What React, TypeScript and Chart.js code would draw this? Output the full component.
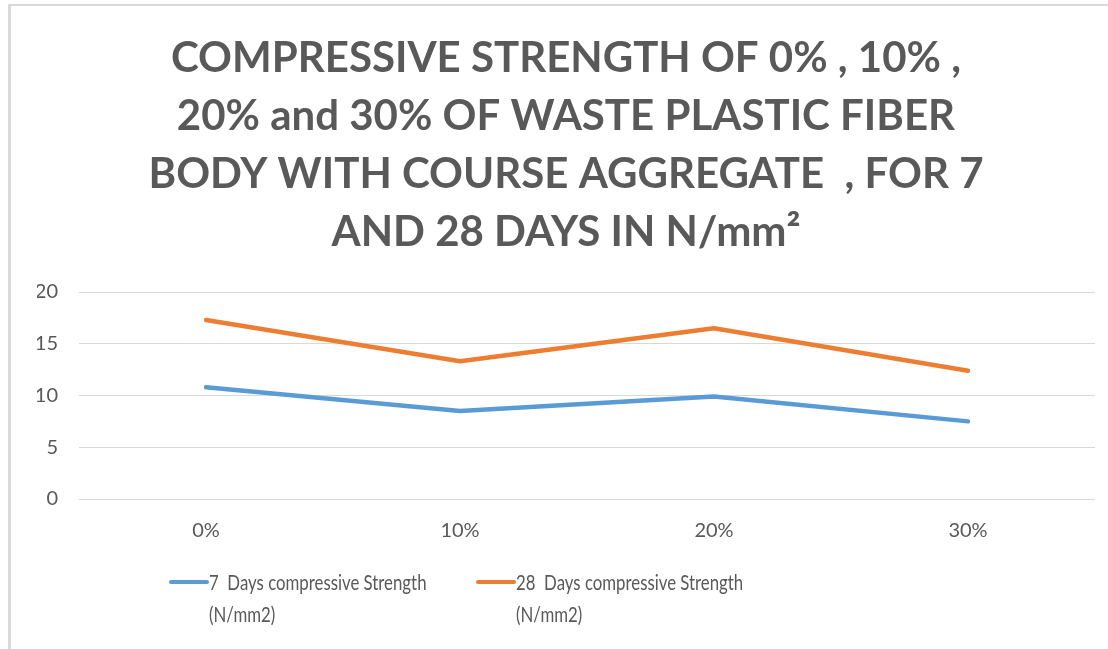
import React, { useEffect, useRef } from "react";
import { Chart, registerables } from "chart.js";

Chart.register(...registerables);

const categories = ["0%", "10%", "20%", "30%"];
const days7Values = [10.8, 8.5, 9.9, 7.5];
const days28Values = [17.3, 13.3, 16.5, 12.4];
const legend7Lines = ["7  Days compressive Strength", "(N/mm2)"];
const legend28Lines = ["28  Days compressive Strength", "(N/mm2)"];
const titleLines = [
  "COMPRESSIVE STRENGTH OF 0% , 10% ,",
  "20% and 30% OF WASTE PLASTIC FIBER",
  "BODY WITH COURSE AGGREGATE  , FOR 7",
  "AND 28 DAYS IN N/mm\u00B2",
];
const yTicks = [0, 5, 10, 15, 20];

const FONT = "Lato, 'Liberation Sans', sans-serif";
const TEXT = "#595959";

const legendLines = [legend7Lines, legend28Lines];

const customLegend = {
  id: "customLegend",
  afterDraw(chart: any) {
    const { ctx, chartArea } = chart;
    const offsets = [92, 399];
    const lineY = chartArea.bottom + 83;
    ctx.save();
    chart.data.datasets.forEach((ds: any, i: number) => {
      const x0 = chartArea.left + offsets[i];
      ctx.strokeStyle = ds.borderColor;
      ctx.lineWidth = 4;
      ctx.lineCap = "round";
      ctx.beginPath();
      ctx.moveTo(x0, lineY);
      ctx.lineTo(x0 + 36, lineY);
      ctx.stroke();
      ctx.fillStyle = TEXT;
      ctx.font = `21px ${FONT}`;
      ctx.textBaseline = "middle";
      ctx.textAlign = "left";
      legendLines[i].forEach((t, j) => {
        ctx.save();
        ctx.translate(x0 + 38, lineY + 1 + j * 32);
        ctx.scale(0.8, 1);
        ctx.fillText(t, 0, 0);
        ctx.restore();
      });
    });
    ctx.restore();
  },
};

export default function App() {
  const ref = useRef<HTMLCanvasElement | null>(null);
  useEffect(() => {
    if (!ref.current) return;
    const chart = new Chart(ref.current, {
      type: "line",
      data: {
        labels: categories,
        datasets: [
          {
            label: legend7Lines.join(" "),
            data: days7Values,
            borderColor: "#5B9BD5",
            backgroundColor: "#5B9BD5",
            borderWidth: 4.5,
            pointRadius: 0,
            borderCapStyle: "round",
            borderJoinStyle: "round",
            tension: 0,
          },
          {
            label: legend28Lines.join(" "),
            data: days28Values,
            borderColor: "#ED7D31",
            backgroundColor: "#ED7D31",
            borderWidth: 4.5,
            pointRadius: 0,
            borderCapStyle: "round",
            borderJoinStyle: "round",
            tension: 0,
          },
        ],
      },
      options: {
        responsive: false,
        animation: false,
        layout: { padding: { left: 37, right: 13, top: 0, bottom: 94 } },
        plugins: {
          legend: { display: false },
          tooltip: { enabled: false },
          title: {
            display: true,
            text: titleLines,
            color: TEXT,
            font: { family: FONT, weight: "bold", size: 42, lineHeight: 58 / 42 },
            padding: { top: 29, bottom: 31 },
          },
        },
        scales: {
          x: {
            offset: true,
            grid: { display: false },
            border: { display: false },
            ticks: { color: TEXT, font: { family: FONT, size: 20 }, padding: 12 },
          },
          y: {
            min: 0,
            max: 20,
            afterBuildTicks: (axis: any) => {
              axis.ticks = yTicks.map((v) => ({ value: v }));
            },
            afterFit: (axis: any) => {
              axis.width = 42;
            },
            grid: { color: "#d9d9d9", lineWidth: 1, drawTicks: false },
            border: { display: false },
            ticks: { color: TEXT, font: { family: FONT, size: 20 }, padding: 21 },
          },
        },
      },
      plugins: [customLegend],
    });
    return () => chart.destroy();
  }, []);
  return (
    <div style={{ position: "fixed", left: 0, top: 0, width: 1108, height: 649, background: "#fff", overflow: "hidden" }}>
      <canvas ref={ref} width={1108} height={649} style={{ display: "block" }} />
      <div style={{ position: "absolute", left: 8, top: 4, right: 0, height: 2, background: "#d9d9d9" }} />
      <div style={{ position: "absolute", left: 8, top: 4, bottom: 0, width: 3, background: "#d9d9d9" }} />
    </div>
  );
}
